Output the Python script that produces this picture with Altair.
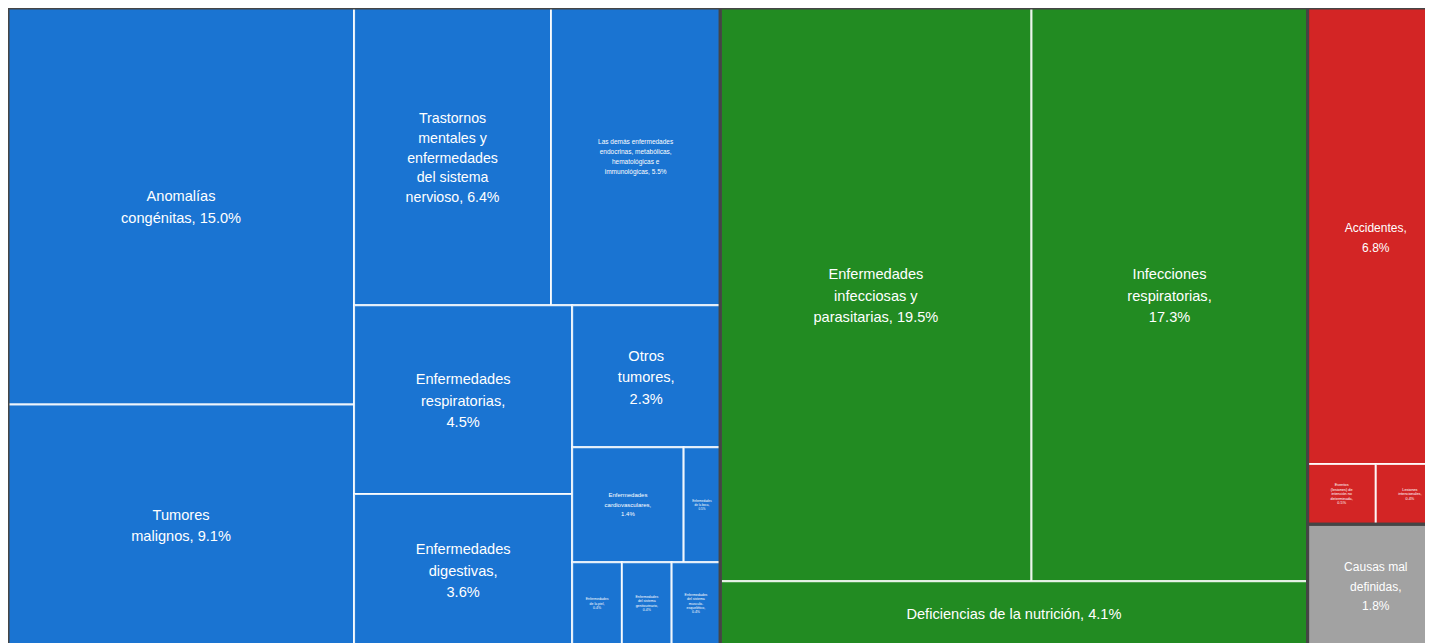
import altair as alt
import pandas as pd

# ---------------- data ----------------
keys = ["anom", "tum", "tras", "demas", "resp", "dig", "otros", "cardio",
        "boca", "piel", "genito", "musculo",
        "infec", "irespi", "defic",
        "accid", "eventos", "lesint",
        "maldef"]
values = [15.0, 9.1, 6.4, 5.5, 4.5, 3.6, 2.3, 1.4,
          0.46, 0.45, 0.45, 0.44,
          19.5, 17.3, 4.1,
          6.8, 0.45, 0.45,
          1.8]
groups = ["No transmisibles"] * 12 + ["Transmisibles"] * 3 + ["Lesiones"] * 3 + ["Mal definidas"]
labels = [
    ["Anomalías", "congénitas, 15.0%"],
    ["Tumores", "malignos, 9.1%"],
    ["Trastornos", "mentales y", "enfermedades", "del sistema", "nervioso, 6.4%"],
    ["Las demás enfermedades", "endocrinas, metabólicas,", "hematológicas e", "immunológicas, 5.5%"],
    ["Enfermedades", "respiratorias,", "4.5%"],
    ["Enfermedades", "digestivas,", "3.6%"],
    ["Otros", "tumores,", "2.3%"],
    ["Enfermedades", "cardiovasculares,", "1.4%"],
    ["Enfermedades", "de la boca,", "0.5%"],
    ["Enfermedades", "de la piel,", "0.4%"],
    ["Enfermedades", "del sistema", "genitourinario,", "0.4%"],
    ["Enfermedades", "del sistema", "musculo-", "esquelético,", "0.4%"],
    ["Enfermedades", "infecciosas y", "parasitarias, 19.5%"],
    ["Infecciones", "respiratorias,", "17.3%"],
    ["Deficiencias de la nutrición, 4.1%"],
    ["Accidentes,", "6.8%"],
    ["Eventos", "(lesiones) de", "intención no", "determinada,", "0.5%"],
    ["Lesiones", "intencionales,", "0.4%"],
    ["Causas mal", "definidas,", "1.8%"],
]

# tiling structure: "h" = side by side, "v" = stacked
TILING = ("h", [
    ("h", [("v", ["anom", "tum"]),
           ("v", [("h", ["tras", "demas"]),
                  ("h", [("v", ["resp", "dig"]),
                         ("v", ["otros", ("h", ["cardio", "boca"]),
                                ("h", ["piel", "genito", "musculo"])])])])]),
    ("v", [("h", ["infec", "irespi"]), "defic"]),
    ("v", [("v", ["accid", ("h", ["eventos", "lesint"])]), "maldef"]),
])

# ---------------- styles ----------------
GROUP_COLORS = {"No transmisibles": "#1a74d2", "Transmisibles": "#228b22",
                "Lesiones": "#d32525", "Mal definidas": "#a2a2a2"}
FONT_SIZE = {"anom": 14.6, "tum": 14.6, "tras": 14.2, "demas": 6.5, "resp": 14.6, "dig": 14.6,
             "otros": 14.6, "cardio": 6, "boca": 3, "piel": 3.5, "genito": 3.5,
             "musculo": 3.5, "infec": 14.6, "irespi": 14.6, "defic": 14.6, "accid": 12,
             "eventos": 3.8, "lesint": 3.8, "maldef": 12}
LINE_HEIGHT = {14.6: 21.5, 14.2: 19.8, 12: 19.5, 6.5: 10, 6: 9.5, 3.8: 4.6, 3.5: 4.4, 3: 4}
TEXT_SHIFT = 2
LAYOUT_W, LAYOUT_H = 1436, 637
VIEW_W, VIEW_H = 1417, 635

val = dict(zip(keys, values))


def total(node):
    if isinstance(node, str):
        return val[node]
    return sum(total(c) for c in node[1])


cells = {}


def tile(node, x0, y0, x1, y1):
    if isinstance(node, str):
        cells[node] = (x0, y0, x1, y1)
        return
    orient, children = node
    tot = total(node)
    pos = x0 if orient == "h" else y0
    for c in children:
        frac = total(c) / tot
        if orient == "h":
            w = (x1 - x0) * frac
            tile(c, pos, y0, pos + w, y1)
            pos += w
        else:
            h = (y1 - y0) * frac
            tile(c, x0, pos, x1, pos + h)
            pos += h


tile(TILING, 0, 0, LAYOUT_W, LAYOUT_H)

rows = []
for k, g, lab in zip(keys, groups, labels):
    x0, y0, x1, y1 = cells[k]
    rows.append(dict(key=k, group=g, color=GROUP_COLORS[g], x0=x0, x1=x1, y0=y0, y1=y1,
                     cx=(x0 + x1) / 2, cy=(y0 + y1) / 2, label=lab,
                     fs=FONT_SIZE[k], n=len(lab)))
df = pd.DataFrame(rows)

gdf = df.groupby("group").agg(x0=("x0", "min"), x1=("x1", "max"),
                              y0=("y0", "min"), y1=("y1", "max")).reset_index()

xs = alt.Scale(domain=[0, VIEW_W], nice=False, zero=False)
ys = alt.Scale(domain=[0, VIEW_H], nice=False, zero=False, reverse=True)

base = alt.Chart(df)
rects = base.mark_rect(clip=True, stroke="white", strokeWidth=2, strokeOpacity=0.85).encode(
    x=alt.X("x0:Q", scale=xs, axis=None), x2="x1:Q",
    y=alt.Y("y0:Q", scale=ys, axis=None), y2="y1:Q",
    fill=alt.Fill("color:N", scale=None),
)
borders = alt.Chart(gdf).mark_rect(clip=True, fill=None, stroke="#454545", strokeWidth=3).encode(
    x=alt.X("x0:Q", scale=xs, axis=None), x2="x1:Q",
    y=alt.Y("y0:Q", scale=ys, axis=None), y2="y1:Q",
)
layers = [rects, borders]
combos = sorted(set(zip(df["fs"], df["n"])))
for fs, n in combos:
    lh = LINE_HEIGHT[fs]
    layers.append(
        base.transform_filter((alt.datum.fs == fs) & (alt.datum.n == int(n))).mark_text(
            clip=True, color="white", font="Liberation Sans", fontSize=fs,
            lineHeight=lh, align="center", baseline="middle",
            dy=-(int(n) - 1) * lh / 2 + (TEXT_SHIFT if fs > 10 else 0),
        ).encode(
            x=alt.X("cx:Q", scale=xs, axis=None),
            y=alt.Y("cy:Q", scale=ys, axis=None),
            text="label",
        )
    )

chart = alt.layer(*layers).properties(
    width=VIEW_W, height=VIEW_H, padding=0,
    autosize=alt.AutoSizeParams(type="none"),
).configure_view(stroke=None)

chart.save("out.html", embed_options={"renderer": "svg", "actions": False})
